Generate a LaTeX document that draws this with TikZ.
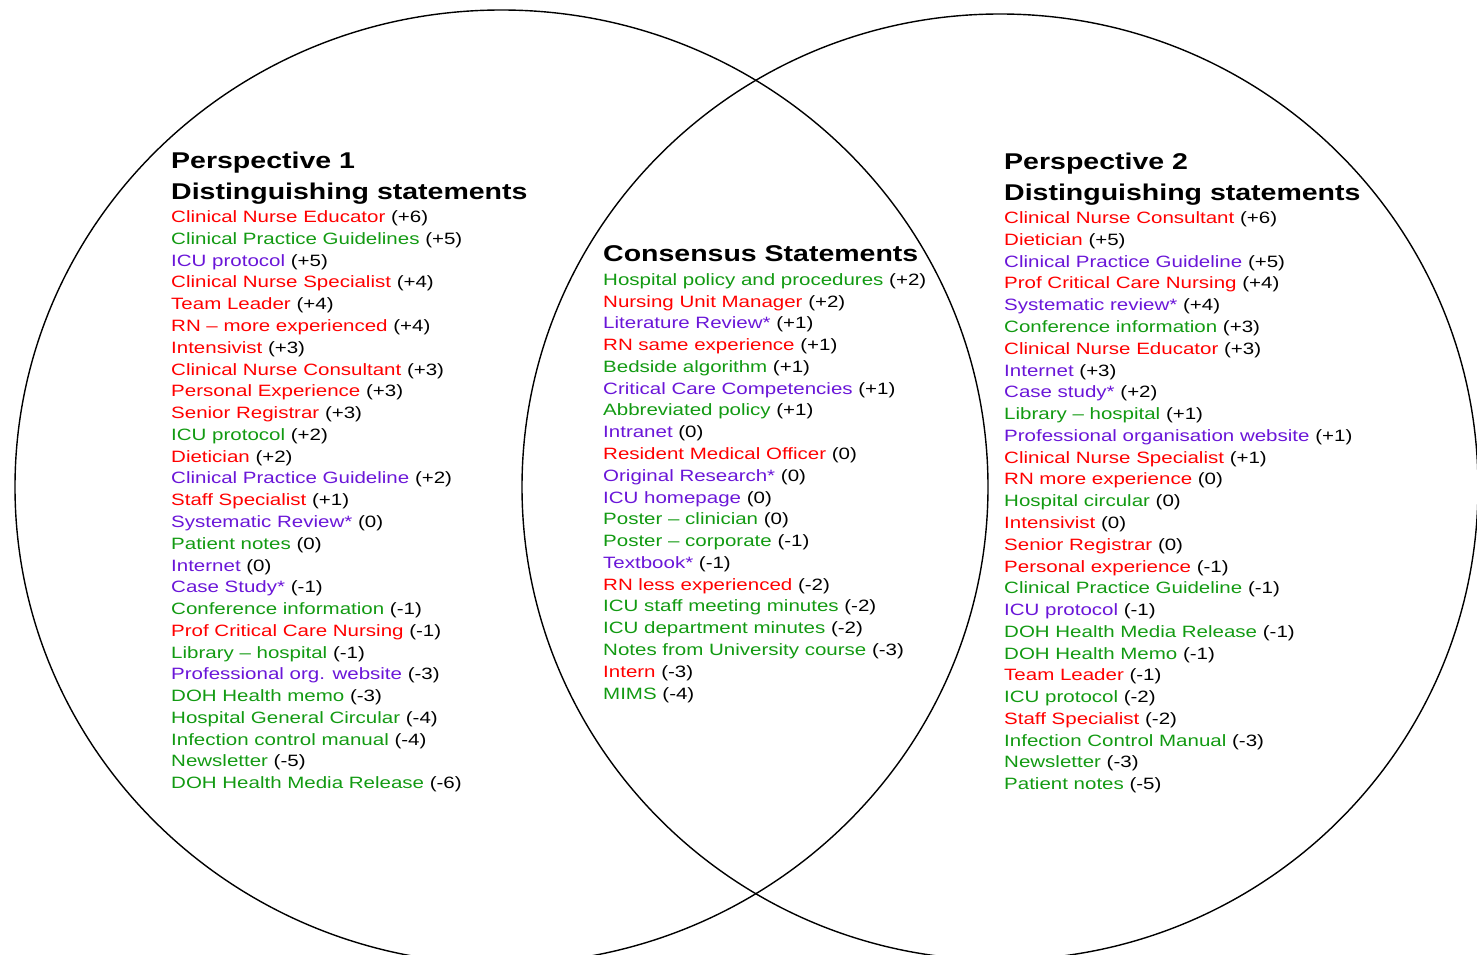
\documentclass[tikz,border=0pt]{standalone}
\usepackage{fontspec}
\setmainfont[FakeStretch=1.25]{Liberation Sans}
\usetikzlibrary{positioning}
\definecolor{StRed}{HTML}{FF0000}
\definecolor{StGreen}{HTML}{129A12}
\definecolor{StPurple}{HTML}{6A16D8}
\definecolor{Ring}{HTML}{000000}
\newcommand{\rd}[1]{\textcolor{StRed}{#1}}
\newcommand{\gn}[1]{\textcolor{StGreen}{#1}}
\newcommand{\pu}[1]{\textcolor{StPurple}{#1}}

\begin{document}
\begin{tikzpicture}[x=1pt,y=-1pt,head/.style={anchor=base west,inner sep=0pt,align=left,font=\fontsize{22.8}{30.6}\selectfont\bfseries},stmts/.style={anchor=base west,inner sep=0pt,align=left,font=\fontsize{16.4}{21.77}\selectfont}]
\useasboundingbox (0,0) rectangle (1477,955);
\clip (0,0) rectangle (1477,955);
\draw[Ring,line width=1.4pt] (501.5,487) ellipse [x radius=486.5,y radius=477];
\draw[Ring,line width=1.4pt] (1000,487) ellipse [x radius=478,y radius=473];
% x of the columns, y of the last baseline in each block
\def\xone{171}\def\xmid{603}\def\xtwo{1004}
% perspective 1
\node[head] (p1head) at (\xone,199) {Perspective 1\\Distinguishing statements};
\node[stmts] (p1list) at (\xone,788.7) {\rd{Clinical Nurse Educator} (+6)\\\gn{Clinical Practice Guidelines} (+5)\\\pu{ICU protocol} (+5)\\\rd{Clinical Nurse Specialist} (+4)\\\rd{Team Leader} (+4)\\\rd{RN -- more experienced} (+4)\\\rd{Intensivist} (+3)\\\rd{Clinical Nurse Consultant} (+3)\\\rd{Personal Experience} (+3)\\\rd{Senior Registrar} (+3)\\\gn{ICU protocol} (+2)\\\rd{Dietician} (+2)\\\pu{Clinical Practice Guideline} (+2)\\\rd{Staff Specialist} (+1)\\\pu{Systematic Review*} (0)\\\gn{Patient notes} (0)\\\pu{Internet} (0)\\\pu{Case Study*} (-1)\\\gn{Conference information} (-1)\\\rd{Prof Critical Care Nursing} (-1)\\\gn{Library -- hospital} (-1)\\\pu{Professional org. website} (-3)\\\gn{DOH Health memo} (-3)\\\gn{Hospital General Circular} (-4)\\\gn{Infection control manual} (-4)\\\gn{Newsletter} (-5)\\\gn{DOH Health Media Release} (-6)};
% consensus
\node[head] (conhead) at (\xmid,261.7) {Consensus Statements};
\node[stmts] (conlist) at (\xmid,699) {\gn{Hospital policy and procedures} (+2)\\\rd{Nursing Unit Manager} (+2)\\\pu{Literature Review*} (+1)\\\rd{RN same experience} (+1)\\\gn{Bedside algorithm} (+1)\\\pu{Critical Care Competencies} (+1)\\\gn{Abbreviated policy} (+1)\\\pu{Intranet} (0)\\\rd{Resident Medical Officer} (0)\\\pu{Original Research*} (0)\\\pu{ICU homepage} (0)\\\gn{Poster -- clinician} (0)\\\gn{Poster -- corporate} (-1)\\\pu{Textbook*} (-1)\\\rd{RN less experienced} (-2)\\\gn{ICU staff meeting minutes} (-2)\\\gn{ICU department minutes} (-2)\\\gn{Notes from University course} (-3)\\\rd{Intern} (-3)\\\gn{MIMS} (-4)};
% perspective 2
\node[head] (p2head) at (\xtwo,200) {Perspective 2\\Distinguishing statements};
\node[stmts] (p2list) at (\xtwo,789.7) {\rd{Clinical Nurse Consultant} (+6)\\\rd{Dietician} (+5)\\\pu{Clinical Practice Guideline} (+5)\\\rd{Prof Critical Care Nursing} (+4)\\\pu{Systematic review*} (+4)\\\gn{Conference information} (+3)\\\rd{Clinical Nurse Educator} (+3)\\\pu{Internet} (+3)\\\pu{Case study*} (+2)\\\gn{Library -- hospital} (+1)\\\pu{Professional organisation website} (+1)\\\rd{Clinical Nurse Specialist} (+1)\\\rd{RN more experience} (0)\\\gn{Hospital circular} (0)\\\rd{Intensivist} (0)\\\rd{Senior Registrar} (0)\\\rd{Personal experience} (-1)\\\gn{Clinical Practice Guideline} (-1)\\\pu{ICU protocol} (-1)\\\gn{DOH Health Media Release} (-1)\\\gn{DOH Health Memo} (-1)\\\rd{Team Leader} (-1)\\\gn{ICU protocol} (-2)\\\rd{Staff Specialist} (-2)\\\gn{Infection Control Manual} (-3)\\\gn{Newsletter} (-3)\\\gn{Patient notes} (-5)};
\end{tikzpicture}
\end{document}
